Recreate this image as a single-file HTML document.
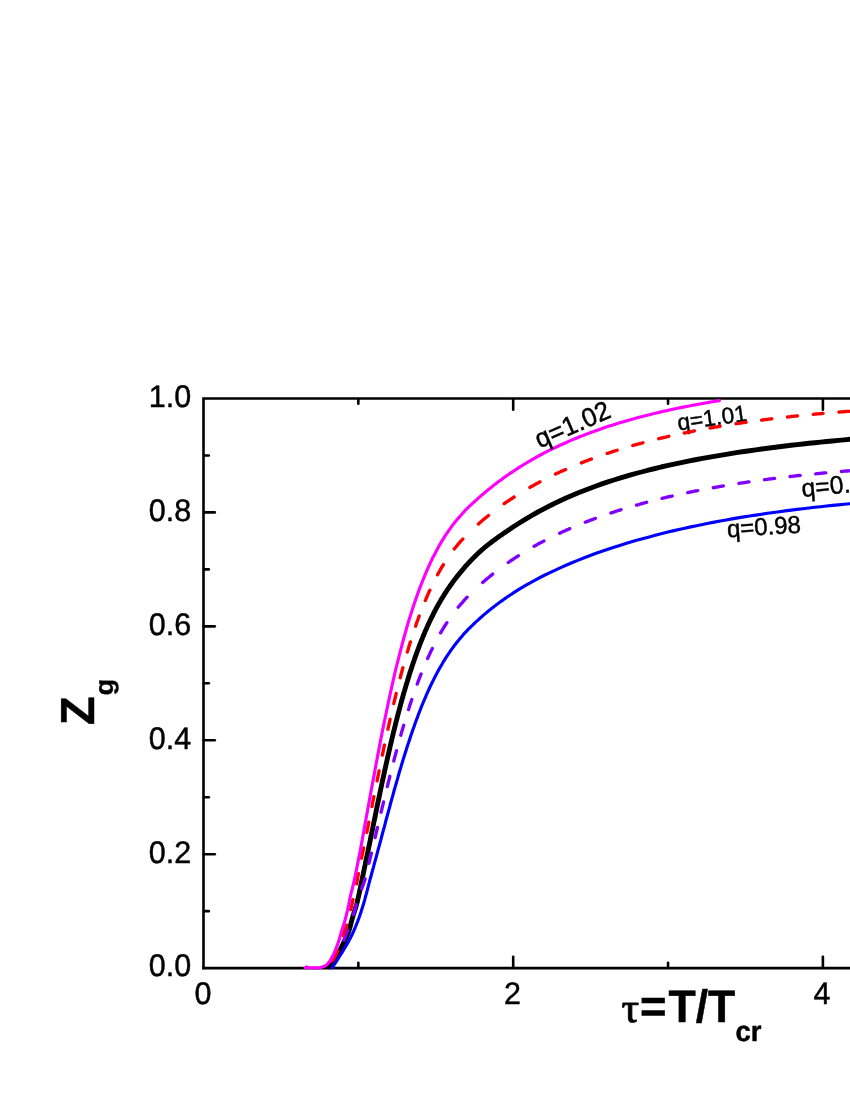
<!DOCTYPE html>
<html><head><meta charset="utf-8"><title>Zg</title>
<style>
html,body{margin:0;padding:0;background:#fff;}
body{width:850px;height:1100px;overflow:hidden;}
svg{display:block;will-change:transform;font-family:"Liberation Sans",sans-serif;text-rendering:geometricPrecision;}
.ax line,.ax path{stroke:#000;stroke-width:2.6;fill:none;}
.ax line{stroke-linecap:round;}
text{fill:#000;stroke:#000;stroke-width:0.45px;stroke-linejoin:round;}
.cv path{fill:none;stroke-linejoin:round;}
</style></head><body>
<svg width="850" height="1100" viewBox="0 0 850 1100">
<rect width="850" height="1100" fill="#fff"/>
<g class="ax">
<path d="M203.5,969.35 L203.5,398.5 L856,398.5"/>
<path d="M202.25,968.1 L856,968.1"/>
<line x1="204.0" y1="911.14" x2="208.8" y2="911.14"/>
<line x1="204.0" y1="854.18" x2="214.8" y2="854.18"/>
<line x1="204.0" y1="797.22" x2="208.8" y2="797.22"/>
<line x1="204.0" y1="740.26" x2="214.8" y2="740.26"/>
<line x1="204.0" y1="683.30" x2="208.8" y2="683.30"/>
<line x1="204.0" y1="626.34" x2="214.8" y2="626.34"/>
<line x1="204.0" y1="569.38" x2="208.8" y2="569.38"/>
<line x1="204.0" y1="512.42" x2="214.8" y2="512.42"/>
<line x1="204.0" y1="455.46" x2="208.8" y2="455.46"/>
<line x1="358.35" y1="967.6" x2="358.35" y2="962.80"/>
<line x1="358.35" y1="399.0" x2="358.35" y2="403.8"/>
<line x1="513.20" y1="967.6" x2="513.20" y2="956.80"/>
<line x1="513.20" y1="399.0" x2="513.20" y2="409.8"/>
<line x1="668.05" y1="967.6" x2="668.05" y2="962.80"/>
<line x1="668.05" y1="399.0" x2="668.05" y2="403.8"/>
<line x1="822.90" y1="967.6" x2="822.90" y2="956.80"/>
<line x1="822.90" y1="399.0" x2="822.90" y2="409.8"/>
</g>
<g><text transform="translate(678.6,430.4) rotate(-8) scale(1,1.02)" font-size="22.6" text-anchor="start">q=1.01</text></g>
<g class="cv">
<path d="M327.5,967.8 L329.5,966.1 L331.4,964.3 L333.1,962.6 L334.3,960.8 L335.5,959.1 L336.5,957.3 L337.5,955.6 L338.3,953.9 L339.2,952.1 L340.0,950.4 L340.8,948.6 L341.6,946.9 L342.4,945.1 L343.3,943.4 L344.1,941.7 L345.0,939.9 L345.8,938.2 L346.6,936.4 L347.4,934.7 L348.1,933.0 L348.8,931.2 L349.4,929.5 L349.9,927.7 L350.3,926.0 L350.7,924.2 L351.2,922.5 L351.6,920.8 L352.1,919.0 L352.6,917.3 L353.1,915.5 L353.7,913.8 L354.3,912.0 L354.8,910.3 L355.4,908.6 L355.9,906.8 L356.4,905.1 L356.9,903.3 L357.3,901.6 L357.7,899.8 L358.1,898.1 L358.5,896.4 L358.9,894.6 L359.3,892.9 L359.7,891.1 L360.0,889.4 L360.4,887.7 L360.7,885.9 L361.1,884.2 L361.4,882.4 L361.8,880.7 L362.2,878.9 L362.5,877.2 L362.9,875.5 L363.3,873.7 L363.6,872.0 L364.0,870.2 L364.3,868.5 L364.7,866.7 L365.1,865.0 L366.3,859.0 L367.6,853.0 L368.8,847.0 L370.1,840.9 L371.3,834.8 L372.6,828.7 L373.8,822.6 L375.1,816.5 L376.3,810.4 L377.5,804.4 L378.8,798.4 L380.0,792.4 L381.3,786.5 L382.5,780.7 L383.8,774.9 L385.0,769.2 L386.3,763.5 L387.5,757.9 L388.8,752.5 L390.0,747.0 L391.3,741.7 L392.5,736.5 L393.7,731.3 L395.0,726.3 L396.2,721.3 L397.5,716.4 L398.7,711.6 L400.0,706.9 L401.2,702.3 L402.5,697.8 L403.7,693.4 L405.0,689.1 L406.2,684.9 L407.5,680.8 L408.7,676.7 L409.9,672.8 L411.2,668.9 L412.4,665.2 L413.7,661.5 L414.9,657.9 L416.2,654.4 L417.4,651.0 L418.7,647.6 L419.9,644.4 L421.2,641.2 L422.4,638.1 L423.7,635.0 L424.9,632.1 L426.2,629.2 L427.4,626.4 L428.6,623.7 L429.9,621.0 L431.1,618.4 L432.4,615.9 L433.6,613.4 L434.9,611.0 L436.1,608.6 L437.4,606.3 L438.6,604.1 L439.9,601.9 L441.1,599.8 L442.4,597.7 L443.6,595.7 L444.8,593.7 L446.1,591.8 L447.3,589.9 L448.6,588.1 L449.8,586.3 L451.1,584.5 L452.3,582.8 L453.6,581.1 L454.8,579.4 L456.1,577.8 L457.3,576.2 L458.6,574.7 L459.8,573.1 L461.1,571.6 L462.3,570.2 L463.5,568.7 L464.8,567.1 L466.0,565.7 L467.3,564.4 L468.5,563.0 L469.8,561.7 L471.0,560.4 L472.3,559.1 L473.5,557.8 L474.8,556.6 L476.0,555.3 L477.3,554.1 L478.5,552.9 L479.7,551.8 L481.0,550.7 L482.2,549.6 L483.5,548.5 L484.7,547.4 L486.0,546.4 L487.2,545.4 L488.5,544.4 L489.7,543.4 L491.0,542.5 L492.2,541.5 L493.5,540.6 L494.7,539.7 L496.0,538.8 L497.2,537.9 L498.4,537.0 L499.7,536.1 L500.9,535.3 L502.2,534.4 L503.4,533.5 L504.7,532.7 L505.9,531.8 L507.2,531.0 L508.4,530.1 L509.7,529.3 L510.9,528.5 L512.2,527.6 L513.4,526.8 L519.3,523.0 L525.2,519.3 L531.1,515.8 L537.0,512.5 L542.9,509.3 L548.9,506.2 L554.8,503.3 L560.7,500.5 L566.6,497.8 L572.5,495.3 L578.4,492.8 L584.3,490.5 L590.2,488.2 L596.1,486.0 L602.0,483.9 L607.9,481.9 L613.9,480.0 L619.8,478.2 L625.7,476.4 L631.6,474.7 L637.5,473.0 L643.4,471.5 L649.3,469.9 L655.2,468.5 L661.1,467.0 L667.0,465.7 L672.9,464.3 L678.9,463.1 L684.8,461.8 L690.7,460.6 L696.6,459.5 L702.5,458.4 L708.4,457.3 L714.3,456.3 L720.2,455.3 L726.1,454.3 L732.0,453.3 L737.9,452.4 L743.9,451.5 L749.8,450.7 L755.7,449.8 L761.6,449.0 L767.5,448.2 L773.4,447.5 L779.3,446.7 L785.2,446.0 L791.1,445.3 L797.0,444.6 L802.9,444.0 L808.9,443.3 L814.8,442.7 L820.7,442.1 L826.6,441.5 L832.5,441.0 L838.4,440.4 L844.3,439.9 L850.2,439.3 L856.1,438.8 L862.0,438.3" stroke="#000" stroke-width="4.9"/>
<path d="M344.1,940.2 L344.5,939.2 L344.9,938.2 L345.2,937.2 L345.6,936.2 L346.0,935.2 L346.4,934.2 L346.7,933.2 L347.1,932.2 L347.5,931.2 L347.8,930.2 L347.8,930.2 M353.4,914.5 L353.7,913.5 L354.1,912.5 L354.4,911.5 L354.7,910.6 L355.0,909.6 L355.3,908.6 L355.5,907.6 L355.8,906.6 L356.0,905.6 L356.3,904.6 L356.3,904.6 M361.7,888.9 L362.0,887.9 L362.4,886.9 L362.8,885.9 L363.1,884.9 L363.5,883.9 L363.8,882.9 L364.2,881.9 L364.5,880.9 L364.8,879.9 L365.1,878.9 L365.1,878.9 M368.9,863.3 L369.2,862.4 L369.4,861.4 L369.6,860.5 L369.9,859.5 L370.1,858.5 L370.3,857.6 L370.6,856.6 L370.8,855.7 L371.0,854.7 L371.3,853.7 L371.4,853.2 M375.1,837.6 L375.3,836.7 L375.5,835.7 L375.8,834.7 L376.0,833.7 L376.2,832.7 L376.5,831.8 L376.7,830.8 L376.9,829.8 L377.2,828.8 L377.4,827.8 L377.5,827.6 M381.1,812.2 L381.3,811.2 L381.6,810.2 L381.8,809.2 L382.0,808.3 L382.3,807.3 L382.5,806.3 L382.7,805.4 L383.0,804.4 L383.2,803.4 L383.4,802.5 L383.5,802.0 M387.3,786.6 L387.5,785.6 L387.8,784.7 L388.0,783.7 L388.2,782.7 L388.5,781.7 L388.7,780.7 L389.0,779.7 L389.2,778.8 L389.5,777.8 L389.7,776.8 L389.8,776.3 M393.8,761.0 L394.0,760.0 L394.3,759.0 L394.5,758.0 L394.8,757.1 L395.1,756.1 L395.3,755.1 L395.6,754.2 L395.8,753.2 L396.1,752.2 L396.3,751.3 L396.5,750.8 M400.8,735.2 L401.1,734.2 L401.3,733.3 L401.6,732.3 L401.9,731.3 L402.2,730.3 L402.5,729.3 L402.8,728.4 L403.0,727.4 L403.3,726.4 L403.6,725.4 L403.7,725.2 M408.5,709.6 L408.8,708.7 L409.1,707.7 L409.4,706.8 L409.7,705.8 L410.0,704.9 L410.3,703.9 L410.6,702.9 L411.0,701.9 L411.3,701.0 L411.6,700.0 L411.8,699.5 M417.2,684.1 L417.6,683.2 L417.9,682.2 L418.3,681.3 L418.6,680.3 L419.0,679.4 L419.4,678.4 L419.8,677.4 L420.1,676.4 L420.5,675.5 L420.9,674.5 L421.1,674.1 M427.6,658.5 L428.1,657.5 L428.5,656.5 L429.0,655.5 L429.4,654.6 L429.8,653.6 L430.3,652.7 L430.7,651.7 L431.2,650.8 L431.6,649.9 L432.1,648.9 L432.3,648.5 M440.6,632.8 L441.2,631.9 L441.7,631.0 L442.2,630.1 L442.8,629.2 L443.4,628.2 L444.0,627.2 L444.6,626.2 L445.2,625.3 L445.8,624.3 L446.4,623.4 L446.9,622.7 M458.2,607.3 L459.0,606.3 L459.8,605.4 L460.6,604.4 L461.5,603.5 L462.3,602.6 L463.1,601.7 L463.8,600.8 L464.5,599.9 L465.3,599.1 L466.2,598.2 L467.1,597.2 L467.1,597.2 M482.7,582.5 L483.7,581.6 L484.7,580.8 L485.6,579.9 L486.6,579.1 L487.6,578.3 L488.6,577.5 L489.5,576.7 L490.5,575.9 L491.5,575.1 L492.5,574.3 L492.7,574.1 M508.3,562.5 L509.3,561.8 L510.2,561.1 L511.2,560.5 L512.2,559.8 L513.2,559.2 L514.1,558.5 L515.1,557.9 L516.1,557.2 L517.1,556.6 L518.1,556.0 L518.3,555.8 M534.1,546.3 L535.1,545.8 L536.1,545.2 L537.0,544.7 L538.0,544.1 L539.0,543.6 L540.0,543.1 L541.0,542.5 L542.0,542.0 L542.9,541.5 L543.9,541.0 L543.9,541.0 M559.7,533.2 L560.7,532.7 L561.7,532.3 L562.6,531.8 L563.6,531.4 L564.6,530.9 L565.6,530.5 L566.6,530.0 L567.6,529.6 L568.6,529.2 L569.5,528.7 L569.8,528.6 M585.3,522.2 L586.3,521.8 L587.3,521.4 L588.2,521.1 L589.2,520.7 L590.2,520.3 L591.2,519.9 L592.2,519.6 L593.2,519.2 L594.2,518.8 L595.1,518.5 L595.4,518.4 M610.9,513.0 L611.9,512.6 L612.9,512.3 L613.9,512.0 L614.8,511.7 L615.8,511.4 L616.8,511.0 L617.8,510.7 L618.8,510.4 L619.8,510.1 L620.7,509.8 L621.0,509.7 M636.5,505.1 L637.5,504.8 L638.5,504.6 L639.5,504.3 L640.4,504.0 L641.4,503.7 L642.4,503.5 L643.4,503.2 L644.4,502.9 L645.4,502.7 L646.4,502.4 L646.6,502.3 M662.1,498.4 L663.1,498.1 L664.1,497.9 L665.1,497.7 L666.1,497.4 L667.0,497.2 L668.0,497.0 L669.0,496.7 L670.0,496.5 L671.0,496.3 L672.0,496.1 L672.2,496.0 M687.7,492.6 L688.7,492.4 L689.7,492.2 L690.7,492.0 L691.7,491.8 L692.6,491.6 L693.6,491.4 L694.6,491.2 L695.6,491.0 L696.6,490.8 L697.6,490.6 L697.8,490.6 M713.3,487.7 L714.3,487.5 L715.3,487.3 L716.3,487.1 L717.3,487.0 L718.2,486.8 L719.2,486.6 L720.2,486.4 L721.2,486.3 L722.2,486.1 L723.2,485.9 L723.4,485.9 M738.9,483.4 L739.9,483.2 L740.9,483.1 L741.9,482.9 L742.9,482.8 L743.9,482.6 L744.8,482.5 L745.8,482.3 L746.8,482.2 L747.8,482.0 L748.8,481.9 L749.0,481.9 M764.5,479.7 L765.5,479.6 L766.5,479.4 L767.5,479.3 L768.5,479.2 L769.5,479.0 L770.4,478.9 L771.4,478.8 L772.4,478.7 L773.4,478.5 L774.4,478.4 L774.6,478.4 M790.1,476.5 L791.1,476.4 L792.1,476.3 L793.1,476.2 L794.1,476.1 L795.1,476.0 L796.1,475.9 L797.0,475.7 L798.0,475.6 L799.0,475.5 L800.0,475.4 L800.2,475.4 M815.7,473.8 L816.7,473.7 L817.7,473.6 L818.7,473.5 L819.7,473.4 L820.7,473.3 L821.7,473.2 L822.6,473.1 L823.6,473.0 L824.6,472.9 L825.6,472.8 L825.8,472.8 M841.4,471.5 L842.3,471.4 L843.3,471.3 L844.3,471.2 L845.3,471.1 L846.3,471.0 L847.3,471.0 L848.2,470.9 L849.2,470.8 L850.2,470.7 L851.2,470.6 L851.5,470.6" stroke="#8000ff" stroke-width="3.35" stroke-linecap="round"/>
<path d="M332.1,961.1 L332.8,960.1 L333.5,959.1 L334.1,958.1 L334.7,957.1 L335.3,956.1 L335.8,955.1 L336.3,954.1 L336.8,953.1 L337.3,952.1 L337.7,951.1 L337.7,951.1 M342.9,935.4 L343.3,934.4 L343.6,933.5 L343.9,932.5 L344.3,931.5 L344.6,930.5 L345.0,929.5 L345.3,928.5 L345.7,927.5 L346.0,926.5 L346.4,925.5 L346.5,925.2 M350.7,909.6 L351.0,908.6 L351.2,907.6 L351.4,906.6 L351.7,905.6 L351.9,904.6 L352.1,903.6 L352.3,902.6 L352.5,901.6 L352.8,900.6 L353.0,899.6 L353.0,899.6 M356.6,883.9 L356.8,882.9 L357.0,881.9 L357.1,880.9 L357.3,879.9 L357.5,878.9 L357.6,877.9 L357.8,876.9 L358.0,876.0 L358.2,875.0 L358.3,874.0 L358.4,873.7 M361.5,858.2 L361.7,857.2 L361.9,856.2 L362.1,855.2 L362.3,854.2 L362.5,853.2 L362.7,852.3 L362.9,851.3 L363.1,850.3 L363.3,849.4 L363.5,848.4 L363.6,847.9 M366.8,832.3 L367.0,831.3 L367.2,830.3 L367.4,829.4 L367.6,828.4 L367.8,827.4 L368.0,826.4 L368.2,825.4 L368.4,824.4 L368.6,823.4 L368.8,822.4 L368.8,822.2 M372.0,806.5 L372.2,805.5 L372.4,804.5 L372.5,803.5 L372.7,802.5 L372.9,801.5 L373.1,800.5 L373.3,799.5 L373.5,798.6 L373.7,797.6 L373.9,796.6 L373.9,796.6 M377.1,780.8 L377.3,779.8 L377.5,778.8 L377.7,777.8 L377.9,776.8 L378.1,775.9 L378.3,774.9 L378.5,773.9 L378.7,772.9 L378.9,772.0 L379.1,771.0 L379.1,770.7 M382.4,755.1 L382.6,754.1 L382.8,753.1 L383.0,752.1 L383.2,751.1 L383.4,750.1 L383.6,749.2 L383.8,748.2 L384.0,747.2 L384.2,746.2 L384.4,745.3 L384.5,745.0 M387.9,729.2 L388.1,728.2 L388.4,727.2 L388.6,726.2 L388.8,725.3 L389.0,724.3 L389.2,723.4 L389.4,722.4 L389.6,721.4 L389.9,720.5 L390.1,719.5 L390.1,719.2 M393.8,703.5 L394.0,702.5 L394.3,701.5 L394.5,700.5 L394.7,699.5 L395.0,698.6 L395.2,697.6 L395.4,696.6 L395.7,695.7 L395.9,694.7 L396.1,693.8 L396.2,693.5 M400.2,677.7 L400.5,676.7 L400.7,675.8 L401.0,674.8 L401.2,673.8 L401.5,672.8 L401.7,671.9 L402.0,670.9 L402.3,670.0 L402.5,669.0 L402.8,668.0 L402.9,667.8 M407.3,652.1 L407.6,651.1 L407.9,650.2 L408.2,649.2 L408.5,648.2 L408.7,647.3 L409.0,646.3 L409.3,645.4 L409.6,644.4 L409.9,643.4 L410.2,642.4 L410.4,641.9 M415.6,626.2 L415.9,625.2 L416.2,624.2 L416.6,623.2 L416.9,622.2 L417.3,621.3 L417.6,620.3 L418.0,619.3 L418.3,618.4 L418.6,617.5 L419.0,616.5 L419.2,616.1 M425.3,600.5 L425.7,599.6 L426.1,598.6 L426.5,597.7 L426.9,596.8 L427.3,595.8 L427.7,594.9 L428.1,593.9 L428.6,592.9 L429.0,592.0 L429.4,591.0 L429.8,590.3 M437.5,574.8 L438.0,573.9 L438.5,572.9 L439.0,572.0 L439.6,571.1 L440.1,570.2 L440.7,569.2 L441.2,568.2 L441.8,567.2 L442.4,566.3 L443.0,565.3 L443.4,564.6 M454.3,548.9 L455.0,548.0 L455.8,547.1 L456.5,546.2 L457.3,545.3 L458.0,544.4 L458.9,543.4 L459.7,542.4 L460.6,541.4 L461.4,540.5 L462.3,539.6 L462.9,538.9 M478.4,524.0 L479.3,523.2 L480.1,522.5 L481.0,521.7 L481.8,521.0 L482.7,520.3 L483.5,519.6 L484.4,518.8 L485.3,518.1 L486.1,517.4 L487.0,516.7 L487.8,516.0 L488.5,515.5 M504.2,503.7 L505.0,503.1 L505.9,502.5 L506.7,501.9 L507.6,501.3 L508.5,500.8 L509.3,500.2 L510.2,499.6 L511.0,499.0 L511.9,498.5 L512.8,497.9 L513.6,497.3 L514.1,497.0 M529.9,487.4 L530.9,486.8 L531.9,486.3 L532.9,485.7 L533.8,485.2 L534.8,484.7 L535.8,484.1 L536.8,483.6 L537.8,483.0 L538.8,482.5 L539.7,482.0 L540.0,481.9 M555.5,474.1 L556.5,473.6 L557.5,473.1 L558.5,472.7 L559.4,472.2 L560.4,471.8 L561.4,471.3 L562.4,470.9 L563.4,470.4 L564.4,470.0 L565.4,469.6 L565.6,469.5 M581.4,462.9 L582.3,462.5 L583.3,462.1 L584.3,461.7 L585.3,461.3 L586.3,460.9 L587.3,460.6 L588.2,460.2 L589.2,459.8 L590.2,459.4 L591.2,459.1 L591.4,459.0 M607.2,453.4 L608.2,453.1 L609.2,452.8 L610.2,452.5 L611.1,452.1 L612.1,451.8 L613.1,451.5 L614.1,451.2 L615.1,450.9 L616.1,450.6 L617.1,450.2 L617.1,450.2 M632.8,445.5 L633.8,445.2 L634.8,445.0 L635.8,444.7 L636.8,444.4 L637.7,444.1 L638.7,443.9 L639.7,443.6 L640.7,443.3 L641.7,443.1 L642.7,442.8 L642.9,442.7 M658.7,438.7 L659.7,438.5 L660.6,438.2 L661.6,438.0 L662.6,437.8 L663.6,437.5 L664.6,437.3 L665.6,437.1 L666.5,436.9 L667.5,436.6 L668.5,436.4 L668.8,436.3 M684.3,433.0 L685.3,432.8 L686.2,432.6 L687.2,432.4 L688.2,432.2 L689.2,432.0 L690.2,431.8 L691.2,431.6 L692.2,431.4 L693.1,431.2 L694.1,431.0 L694.4,430.9 M710.1,428.0 L711.1,427.8 L712.1,427.6 L713.1,427.5 L714.1,427.3 L715.0,427.1 L716.0,427.0 L717.0,426.8 L718.0,426.6 L719.0,426.5 L720.0,426.3 L720.2,426.2 M736.0,423.7 L737.0,423.6 L737.9,423.4 L738.9,423.3 L739.9,423.1 L740.9,423.0 L741.9,422.8 L742.9,422.7 L743.9,422.6 L744.8,422.4 L745.8,422.3 L746.1,422.2 M761.6,420.1 L762.6,420.0 L763.6,419.9 L764.5,419.7 L765.5,419.6 L766.5,419.5 L767.5,419.4 L768.5,419.2 L769.5,419.1 L770.4,419.0 L771.4,418.9 L771.7,418.8 M787.4,417.0 L788.4,416.9 L789.4,416.8 L790.4,416.7 L791.4,416.5 L792.4,416.4 L793.3,416.3 L794.3,416.2 L795.3,416.1 L796.3,416.0 L797.3,415.9 L797.5,415.9 M813.3,414.3 L814.3,414.2 L815.3,414.1 L816.2,414.0 L817.2,413.9 L818.2,413.9 L819.2,413.8 L820.2,413.7 L821.2,413.6 L822.2,413.5 L823.1,413.4 L823.1,413.4 M838.9,412.1 L839.9,412.0 L840.9,411.9 L841.8,411.8 L842.8,411.7 L843.8,411.7 L844.8,411.6 L845.8,411.5 L846.8,411.4 L847.8,411.4 L848.7,411.3 L849.0,411.3" stroke="#ff0000" stroke-width="3.35" stroke-linecap="round"/>
<path d="M332.2,967.8 L333.3,966.1 L334.4,964.3 L335.5,962.6 L336.7,960.8 L337.8,959.1 L338.9,957.3 L340.0,955.6 L341.1,953.9 L342.2,952.1 L343.3,950.4 L344.3,948.6 L345.4,946.9 L346.4,945.1 L347.4,943.4 L348.4,941.7 L349.3,939.9 L350.3,938.2 L351.2,936.4 L352.0,934.7 L352.9,933.0 L353.6,931.2 L354.4,929.5 L355.1,927.7 L355.8,926.0 L356.5,924.2 L357.2,922.5 L357.9,920.8 L358.5,919.0 L359.2,917.3 L359.8,915.5 L360.4,913.8 L361.0,912.0 L361.5,910.3 L362.1,908.6 L362.6,906.8 L363.2,905.1 L363.7,903.3 L364.2,901.6 L364.7,899.8 L365.1,898.1 L365.6,896.4 L366.1,894.6 L366.6,892.9 L367.0,891.1 L367.5,889.4 L367.9,887.7 L368.4,885.9 L368.8,884.2 L369.3,882.4 L369.7,880.7 L370.2,878.9 L370.7,877.2 L371.2,875.5 L371.6,873.7 L372.1,872.0 L372.6,870.2 L373.1,868.5 L373.6,866.7 L374.0,865.0 L375.2,860.7 L376.4,856.4 L377.5,852.1 L378.7,847.7 L379.9,843.3 L381.1,838.9 L382.2,834.5 L383.4,830.2 L384.6,825.8 L385.7,821.4 L386.9,817.0 L388.1,812.7 L389.3,808.3 L390.4,804.0 L391.6,799.7 L392.8,795.5 L393.9,791.3 L395.1,787.1 L396.3,783.0 L397.5,778.9 L398.6,774.8 L399.8,770.8 L401.0,766.9 L402.1,763.0 L403.3,759.1 L404.5,755.3 L405.7,751.6 L406.8,747.9 L408.0,744.3 L409.2,740.7 L410.3,737.2 L411.5,733.7 L412.7,730.3 L413.9,727.0 L415.0,723.7 L416.2,720.5 L417.4,717.4 L418.5,714.3 L419.7,711.2 L420.9,708.2 L422.0,705.3 L423.2,702.5 L424.4,699.7 L425.6,696.9 L426.7,694.2 L427.9,691.6 L429.1,689.0 L430.2,686.5 L431.4,684.0 L432.6,681.6 L433.8,679.3 L434.9,677.0 L436.1,674.7 L437.3,672.5 L438.4,670.4 L439.6,668.3 L440.8,666.2 L442.0,664.2 L443.1,662.2 L444.3,660.3 L445.5,658.4 L446.6,656.6 L447.8,654.8 L449.0,653.1 L450.2,651.4 L451.3,649.7 L452.5,648.1 L453.7,646.5 L454.8,644.9 L456.0,643.4 L457.2,641.9 L458.4,640.5 L459.5,639.1 L460.7,637.7 L461.9,636.4 L463.0,635.1 L464.2,633.6 L465.4,632.3 L466.6,631.1 L467.7,629.9 L468.9,628.7 L470.1,627.6 L471.2,626.4 L472.4,625.3 L473.6,624.1 L474.8,623.0 L475.9,621.9 L477.1,620.9 L478.3,619.8 L479.4,618.7 L480.6,617.7 L481.8,616.7 L482.9,615.6 L484.1,614.6 L485.3,613.6 L486.5,612.7 L487.6,611.7 L488.8,610.7 L490.0,609.8 L491.1,608.8 L492.3,607.9 L493.5,607.0 L494.7,606.1 L495.8,605.2 L497.0,604.3 L498.2,603.5 L499.3,602.6 L500.5,601.7 L501.7,600.9 L502.9,600.1 L504.0,599.2 L505.2,598.4 L506.4,597.6 L507.5,596.8 L508.7,596.0 L509.9,595.2 L511.1,594.5 L512.2,593.7 L513.4,592.9 L519.3,589.2 L525.2,585.7 L531.1,582.3 L537.0,579.1 L542.9,576.0 L548.9,573.1 L554.8,570.3 L560.7,567.6 L566.6,565.0 L572.5,562.5 L578.4,560.1 L584.3,557.7 L590.2,555.5 L596.1,553.3 L602.0,551.3 L607.9,549.2 L613.9,547.3 L619.8,545.4 L625.7,543.6 L631.6,541.8 L637.5,540.1 L643.4,538.5 L649.3,536.9 L655.2,535.3 L661.1,533.8 L667.0,532.3 L672.9,530.9 L678.9,529.5 L684.8,528.2 L690.7,526.9 L696.6,525.7 L702.5,524.5 L708.4,523.3 L714.3,522.1 L720.2,521.0 L726.1,520.0 L732.0,518.9 L737.9,517.9 L743.9,516.9 L749.8,516.0 L755.7,515.1 L761.6,514.2 L767.5,513.3 L773.4,512.5 L779.3,511.7 L785.2,510.9 L791.1,510.1 L797.0,509.4 L802.9,508.7 L808.9,508.0 L814.8,507.3 L820.7,506.7 L826.6,506.0 L832.5,505.4 L838.4,504.9 L844.3,504.3 L850.2,503.7 L856.1,503.2 L862.0,502.7" stroke="#0000ff" stroke-width="3.15" stroke-linecap="round"/>
<path d="M305.2,967.9 L306.4,966.9 L308.5,967.5 L312.0,967.8 L316.0,967.8 L320.0,967.8 L325.1,966.1 L327.3,964.3 L328.7,962.6 L330.0,960.8 L331.1,959.1 L332.0,957.3 L332.9,955.6 L333.8,953.9 L334.5,952.1 L335.3,950.4 L336.0,948.6 L336.7,946.9 L337.3,945.1 L337.9,943.4 L338.5,941.7 L339.1,939.9 L339.6,938.2 L340.1,936.4 L340.6,934.7 L341.1,933.0 L341.6,931.2 L342.1,929.5 L342.6,927.7 L343.2,926.0 L343.8,924.2 L344.4,922.5 L344.9,920.8 L345.4,919.0 L345.8,917.3 L346.2,915.5 L346.7,913.8 L347.1,912.0 L347.5,910.3 L347.8,908.6 L348.2,906.8 L348.6,905.1 L348.9,903.3 L349.3,901.6 L349.6,899.8 L350.0,898.1 L350.4,896.4 L350.8,894.6 L351.2,892.9 L351.6,891.1 L352.1,889.4 L352.5,887.7 L352.9,885.9 L353.4,884.2 L353.8,882.4 L354.2,880.7 L354.6,878.9 L354.9,877.2 L355.3,875.5 L355.7,873.7 L356.0,872.0 L356.4,870.2 L356.7,868.5 L357.1,866.7 L357.4,865.0 L358.7,858.2 L360.1,851.3 L361.4,844.3 L362.7,837.2 L364.0,830.1 L365.3,822.9 L366.6,815.8 L367.9,808.6 L369.2,801.4 L370.5,794.2 L371.8,787.0 L373.2,779.9 L374.5,772.8 L375.8,765.8 L377.1,758.8 L378.4,751.9 L379.7,745.1 L381.0,738.3 L382.3,731.7 L383.6,725.1 L385.0,718.7 L386.3,712.3 L387.6,706.1 L388.9,699.9 L390.2,693.9 L391.5,688.0 L392.8,682.2 L394.1,676.5 L395.4,670.9 L396.7,665.5 L398.1,660.1 L399.4,654.9 L400.7,649.8 L402.0,644.8 L403.3,640.0 L404.6,635.2 L405.9,630.6 L407.2,626.0 L408.5,621.6 L409.9,617.3 L411.2,613.1 L412.5,609.0 L413.8,605.0 L415.1,601.2 L416.4,597.4 L417.7,593.7 L419.0,590.1 L420.3,586.6 L421.7,583.2 L423.0,579.9 L424.3,576.7 L425.6,573.6 L426.9,570.5 L428.2,567.6 L429.5,564.7 L430.8,561.9 L432.1,559.1 L433.4,556.5 L434.8,553.9 L436.1,551.4 L437.4,549.0 L438.7,546.6 L440.0,544.3 L441.3,542.1 L442.6,539.9 L443.9,537.8 L445.2,535.7 L446.6,533.7 L447.9,531.8 L449.2,529.9 L450.5,528.1 L451.8,526.3 L453.1,524.6 L454.4,522.9 L455.7,521.3 L457.0,519.7 L458.4,518.1 L459.7,516.6 L461.0,515.2 L462.3,513.7 L463.6,512.4 L464.9,510.7 L466.2,509.5 L467.5,508.2 L468.8,506.9 L470.1,505.7 L471.5,504.4 L472.8,503.2 L474.1,502.0 L475.4,500.8 L476.7,499.6 L478.0,498.4 L479.3,497.3 L480.6,496.1 L481.9,495.0 L483.3,493.9 L484.6,492.8 L485.9,491.7 L487.2,490.6 L488.5,489.5 L489.8,488.5 L491.1,487.4 L492.4,486.4 L493.7,485.3 L495.1,484.3 L496.4,483.3 L497.7,482.3 L499.0,481.3 L500.3,480.4 L501.6,479.4 L502.9,478.4 L504.2,477.5 L505.5,476.6 L506.8,475.6 L508.2,474.7 L509.5,473.8 L510.8,472.9 L512.1,472.1 L513.4,471.2 L516.9,468.9 L520.4,466.7 L523.9,464.5 L527.4,462.4 L530.9,460.4 L534.3,458.4 L537.8,456.4 L541.3,454.5 L544.8,452.7 L548.3,450.9 L551.8,449.2 L555.3,447.5 L558.8,445.8 L562.3,444.2 L565.8,442.7 L569.2,441.1 L572.7,439.6 L576.2,438.2 L579.7,436.8 L583.2,435.4 L586.7,434.1 L590.2,432.7 L593.7,431.5 L597.2,430.2 L600.7,429.0 L604.1,427.8 L607.6,426.6 L611.1,425.5 L614.6,424.4 L618.1,423.3 L621.6,422.3 L625.1,421.2 L628.6,420.2 L632.1,419.2 L635.6,418.3 L639.1,417.3 L642.5,416.4 L646.0,415.5 L649.5,414.7 L653.0,413.8 L656.5,413.0 L660.0,412.1 L663.5,411.3 L667.0,410.6 L670.5,409.8 L674.0,409.0 L677.4,408.3 L680.9,407.6 L684.4,406.9 L687.9,406.2 L691.4,405.5 L694.9,404.9 L698.4,404.2 L701.9,403.6 L705.4,403.0 L708.9,402.4 L712.3,401.8 L715.8,401.2 L719.3,400.6" stroke="#ff00ff" stroke-width="3.15" stroke-linecap="round"/>
</g>
<g>
<text transform="translate(191.2,976.5) rotate(0.02) scale(1,1.02)" font-size="30.5" text-anchor="end">0.0</text>
<text transform="translate(191.2,862.6) rotate(0.02) scale(1,1.02)" font-size="30.5" text-anchor="end">0.2</text>
<text transform="translate(191.2,748.7) rotate(0.02) scale(1,1.02)" font-size="30.5" text-anchor="end">0.4</text>
<text transform="translate(191.2,634.7) rotate(0.02) scale(1,1.02)" font-size="30.5" text-anchor="end">0.6</text>
<text transform="translate(191.2,520.8) rotate(0.02) scale(1,1.02)" font-size="30.5" text-anchor="end">0.8</text>
<text transform="translate(191.2,406.9) rotate(0.02) scale(1,1.02)" font-size="30.5" text-anchor="end">1.0</text>
<text transform="translate(202.9,1004.4) rotate(0.02) scale(1,1.02)" font-size="30.5" text-anchor="middle">0</text>
<text transform="translate(512.5,1004.4) rotate(0.02) scale(1,1.02)" font-size="30.5" text-anchor="middle">2</text>
<text transform="translate(822.1,1004.4) rotate(0.02) scale(1,1.02)" font-size="30.5" text-anchor="middle">4</text>
</g>
<g>
<text transform="translate(539.5,448.6) rotate(-23.5) scale(1,1.02)" font-size="25.8" text-anchor="start">q=1.02</text>
<text transform="translate(727.5,537.4) rotate(-3.8) scale(1,1.02)" font-size="24" text-anchor="start">q=0.98</text>
<text transform="translate(802.3,497) rotate(-5.5) scale(1,1.02)" font-size="24.8" text-anchor="start">q=0.99</text>
</g>
<g font-weight="bold">
<text transform="translate(621.5,1022) rotate(0.02) scale(1,0.94)" font-size="44" text-anchor="start" font-family="Liberation Serif" font-weight="normal" style="stroke-width:0.9px">τ</text>
<text transform="translate(640,1022) rotate(0.02) scale(1,1.02)" font-size="45.5" text-anchor="start">=</text>
<text transform="translate(735.3,1022) rotate(0.02) scale(1,1.02)" font-size="44.6" text-anchor="end">T/T</text>
<text transform="translate(735.5,1040.7) rotate(0.02) scale(1,1.04)" font-size="27.5" text-anchor="start">cr</text>
<text transform="translate(94,725.3) rotate(-90) scale(1,1.01)" font-size="47.3" text-anchor="start">Z</text>
<text transform="translate(112.9,695.6) rotate(-90) scale(1,0.94)" font-size="27.5" text-anchor="start">g</text>
</g>
</svg>
</body></html>
